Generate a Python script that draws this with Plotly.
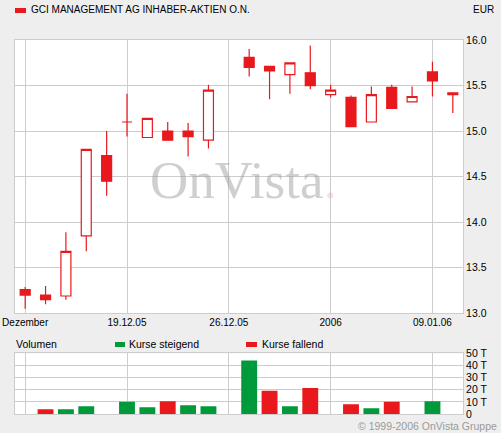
import plotly.graph_objects as go

# ---------------- data ----------------
dates = ["2005-12-12", "2005-12-13", "2005-12-14", "2005-12-15", "2005-12-16",
         "2005-12-19", "2005-12-20", "2005-12-21", "2005-12-22", "2005-12-23",
         "2005-12-26", "2005-12-27", "2005-12-28", "2005-12-29", "2005-12-30",
         "2006-01-02", "2006-01-03", "2006-01-04", "2006-01-05", "2006-01-06",
         "2006-01-09", "2006-01-10"]
open_ = [13.26, 13.20, 13.19, 13.85, 14.73, 15.10, 14.93, 15.00, 15.00, 14.90, None,
         15.81, 15.71, 15.62, 15.64, 15.40, 15.37, 15.10, 15.48, 15.32, 15.65, 15.40]
high = [13.29, 13.30, 13.89, 14.80, 15.00, 15.41, 15.14, 15.10, 15.09, 15.51, None,
        15.90, 15.71, 15.75, 15.94, 15.51, 15.39, 15.49, 15.51, 15.49, 15.76, 15.42]
low = [13.05, 13.10, 13.15, 13.68, 14.29, 14.94, 14.93, 14.90, 14.72, 14.81, None,
       15.60, 15.35, 15.41, 15.46, 15.37, 15.05, 15.10, 15.25, 15.32, 15.38, 15.20]
close = [13.20, 13.15, 13.68, 14.80, 14.45, 15.10, 15.14, 14.90, 14.94, 15.45, None,
         15.70, 15.66, 15.75, 15.50, 15.45, 15.05, 15.40, 15.25, 15.38, 15.55, 15.42]
# volume in thousands (T)
vol_up = [None, None, 4.0, 6.4, None, 10.0, 5.6, None, 7.2, 6.4, None,
          44.0, None, 6.4, None, None, None, 4.8, None, None, 10.6, None]
vol_down = [None, 3.9, None, None, None, None, None, 10.6, None, None, None,
            None, 19.2, None, 21.4, None, 8.0, None, 10.0, None, None, None]

tick_dates = ["2005-12-12", "2005-12-19", "2005-12-26", "2006-01-02", "2006-01-09"]
tick_text = ["Dezember", "19.12.05", "26.12.05", "2006", "09.01.06"]
price_ticks = [13.0, 13.5, 14.0, 14.5, 15.0, 15.5, 16.0]
vol_ticks = [0, 10, 20, 30, 40, 50]
vol_tick_text = ["0", "10 T", "20 T", "30 T", "40 T", "50 T"]

title = "GCI MANAGEMENT AG INHABER-AKTIEN O.N."
currency = "EUR"

# ---------------- styles ----------------
RED = "#e8181c"
GREEN = "#009a3a"
GRID = "#cdcdcd"
BG = "#eeeeee"
FONT = "Liberation Sans, Arial, sans-serif"

W, H = 501, 433
ML, MR, MT, MB = 15, 38, 40, 19
PW, PH = W - ML - MR, H - MT - MB


def px(x):
    return (x - ML) / PW


def py(y):
    return (H - MB - y) / PH


fig = go.Figure()

fig.add_trace(go.Candlestick(
    x=dates, open=open_, high=high, low=low, close=close,
    increasing=dict(line=dict(color=RED, width=1.2), fillcolor="white"),
    decreasing=dict(line=dict(color=RED, width=1.2), fillcolor=RED),
    whiskerwidth=0, hoverinfo="skip", showlegend=False,
    xaxis="x", yaxis="y"))

fig.add_trace(go.Bar(x=dates, y=vol_up, marker=dict(color=GREEN, line=dict(width=0)),
                     width=0.78, showlegend=False, hoverinfo="skip",
                     xaxis="x2", yaxis="y2"))
fig.add_trace(go.Bar(x=dates, y=vol_down, marker=dict(color=RED, line=dict(width=0)),
                     width=0.78, showlegend=False, hoverinfo="skip",
                     xaxis="x2", yaxis="y2"))

main_bottom = py(313.3)
vol_top = py(353.3)

xcommon = dict(type="category", categoryorder="array", categoryarray=dates,
               range=[-0.5, len(dates) - 0.5], tickmode="array", tickvals=tick_dates,
               showgrid=True, gridcolor=GRID, gridwidth=1,
               showline=True, linecolor=GRID, linewidth=1, mirror=True,
               ticks="", zeroline=False, fixedrange=True, automargin=False)

fig.update_layout(
    width=W, height=H,
    margin=dict(l=ML, r=MR, t=MT, b=MB, autoexpand=False),
    paper_bgcolor=BG, plot_bgcolor="white",
    font=dict(family=FONT, size=10, color="#000"),
    barmode="overlay", boxgap=0.3,
    showlegend=False,
    xaxis=dict(xcommon, ticktext=tick_text, domain=[0, 1], anchor="y",
               rangeslider=dict(visible=False), tickfont=dict(size=10)),
    yaxis=dict(domain=[main_bottom, 1], range=[13, 16], side="right",
               tickmode="array", tickvals=price_ticks, tickformat=".1f",
               tickfont=dict(size=10.5),
               showgrid=True, gridcolor=GRID, showline=True, linecolor=GRID,
               mirror=True, ticks="", zeroline=False, anchor="x", automargin=False),
    xaxis2=dict(xcommon, showticklabels=False, domain=[0, 1], anchor="y2"),
    yaxis2=dict(domain=[0, vol_top], range=[0, 50], side="right",
                tickmode="array", tickvals=vol_ticks, ticktext=vol_tick_text,
                tickfont=dict(size=10.5),
                showgrid=True, gridcolor=GRID, showline=True, linecolor=GRID,
                mirror=True, ticks="", zeroline=False, anchor="x2", automargin=False),
)

shapes = [
    dict(type="rect", xref="paper", yref="paper", x0=px(15), x1=px(26), y0=py(13), y1=py(8),
         fillcolor=RED, line=dict(width=0)),
    dict(type="rect", xref="paper", yref="paper", x0=px(115), x1=px(125), y0=py(347), y1=py(342),
         fillcolor=GREEN, line=dict(width=0)),
    dict(type="rect", xref="paper", yref="paper", x0=px(246), x1=px(257), y0=py(347), y1=py(342),
         fillcolor=RED, line=dict(width=0)),
]
fig.update_layout(shapes=shapes)

F = dict(family=FONT, size=10.5, color="#000")
ann = [
    dict(text=title, x=px(29), y=py(10), xanchor="left", yanchor="middle",
         font=dict(family=FONT, size=10, color="#000")),
    dict(text=currency, x=px(496), y=py(10), xanchor="right", yanchor="middle",
         font=dict(family=FONT, size=10, color="#000")),
    dict(text="Volumen", x=px(14), y=py(344), xanchor="left", yanchor="middle"),
    dict(text="Kurse steigend", x=px(127), y=py(344), xanchor="left", yanchor="middle"),
    dict(text="Kurse fallend", x=px(260), y=py(344), xanchor="left", yanchor="middle"),
    dict(text="\u00a9 1999-2006 OnVista Gruppe", x=px(499), y=py(426), xanchor="right",
         yanchor="middle", font=dict(color="#9a9a9a", size=10.5, family=FONT)),
    dict(text="OnVista<span style='color:rgba(225,150,170,0.6)'>.</span>",
         x=px(243), y=py(180), xanchor="center", yanchor="middle",
         font=dict(family="Liberation Serif, serif", size=53, color="rgba(155,155,155,0.48)")),
]
for a in ann:
    a.setdefault("xref", "paper")
    a.setdefault("yref", "paper")
    a.setdefault("showarrow", False)
    a.setdefault("font", F)
fig.update_layout(annotations=ann)

fig.write_html("out.html", config=dict(displayModeBar=False, staticPlot=True),
               post_script="document.body.style.margin='0';document.body.style.padding='0';"
                           "document.body.style.overflow='hidden';")
